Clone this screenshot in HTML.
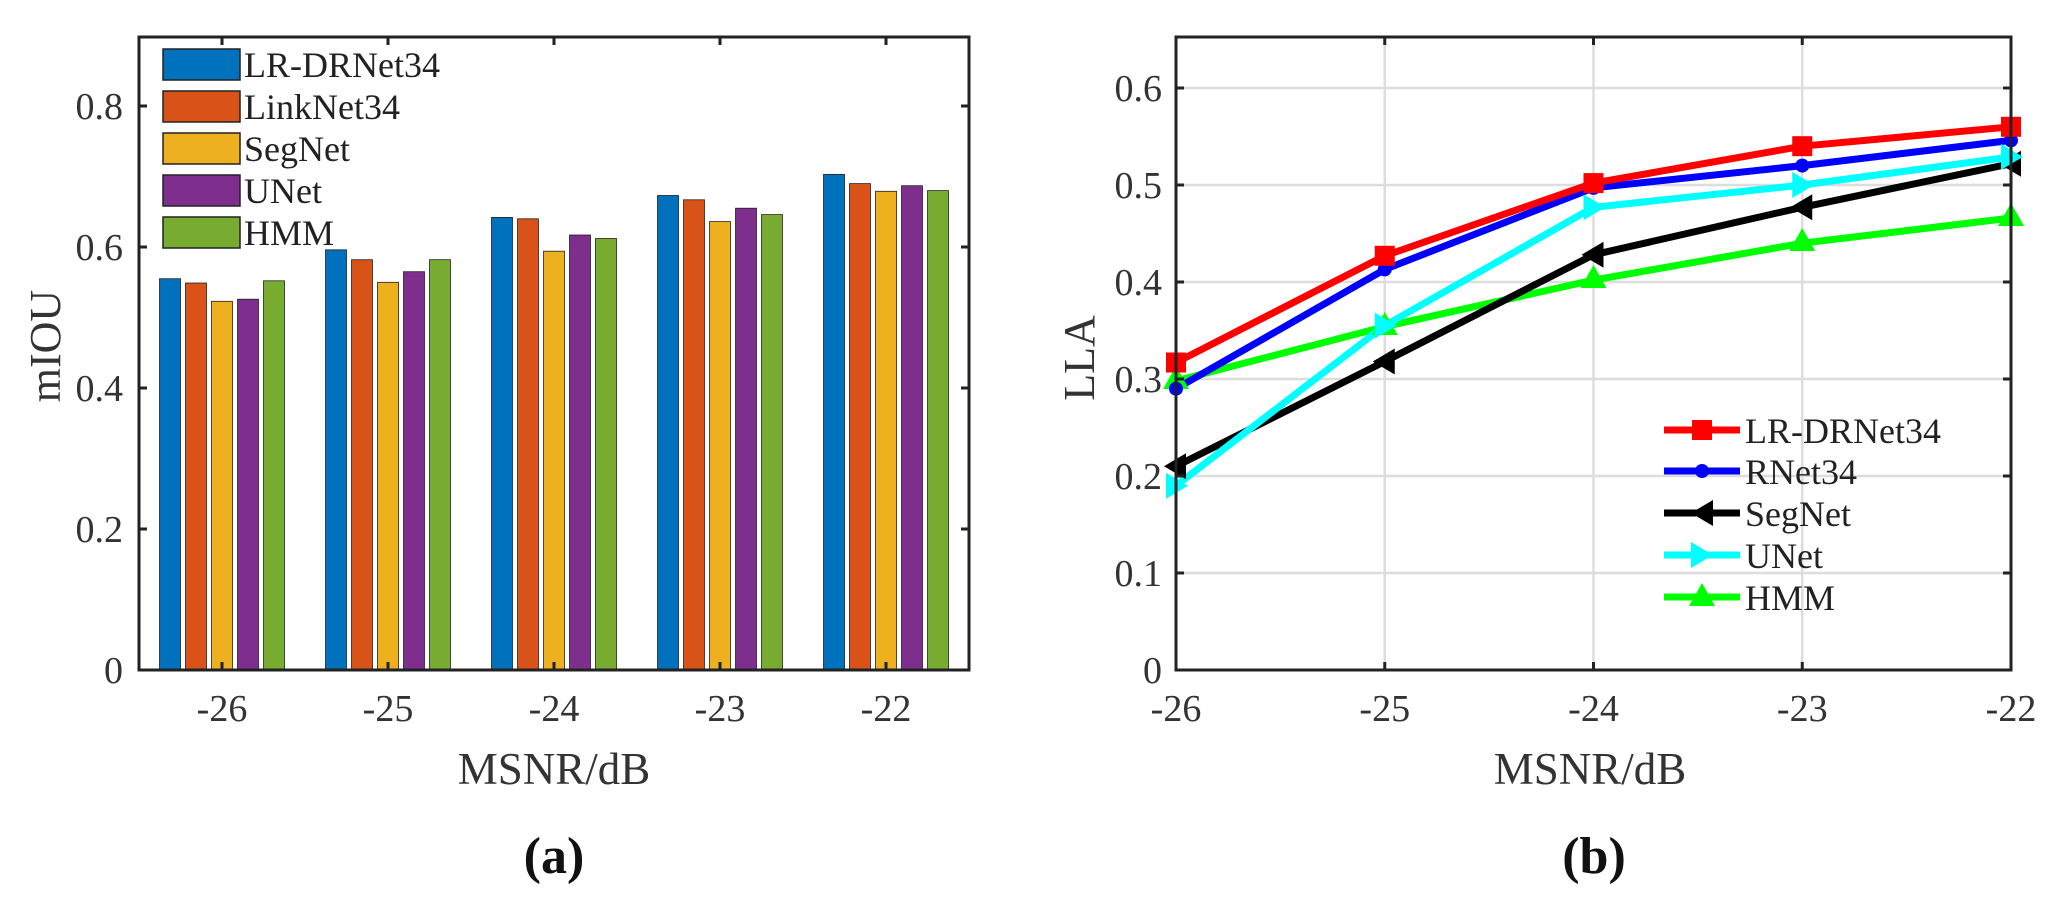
<!DOCTYPE html>
<html><head><meta charset="utf-8"><style>html,body{margin:0;padding:0;background:#fff}svg{display:block}</style></head>
<body>
<svg width="2057" height="915" viewBox="0 0 2057 915" xmlns="http://www.w3.org/2000/svg" font-family="'Liberation Serif',serif" fill="#333">
<!-- LEFT PLOT -->
<g stroke="#222" stroke-width="0.8">
<g fill="#0072BD"><rect x="159.5" y="278.7" width="21" height="391.3"/><rect x="325.5" y="249.8" width="21" height="420.2"/><rect x="491.5" y="217.4" width="21" height="452.6"/><rect x="657.5" y="195.5" width="21" height="474.5"/><rect x="823.5" y="174.4" width="21" height="495.6"/></g>
<g fill="#D95319"><rect x="185.5" y="283" width="21" height="387"/><rect x="351.5" y="259.7" width="21" height="410.3"/><rect x="517.5" y="218.8" width="21" height="451.2"/><rect x="683.5" y="199.8" width="21" height="470.2"/><rect x="849.5" y="183.6" width="21" height="486.4"/></g>
<g fill="#EDB120"><rect x="211.5" y="301.3" width="21" height="368.7"/><rect x="377.5" y="282.3" width="21" height="387.7"/><rect x="543.5" y="251.2" width="21" height="418.8"/><rect x="709.5" y="221.6" width="21" height="448.4"/><rect x="875.5" y="191.3" width="21" height="478.7"/></g>
<g fill="#7E2F8E"><rect x="237.5" y="299.2" width="21" height="370.8"/><rect x="403.5" y="271.7" width="21" height="398.3"/><rect x="569.5" y="235" width="21" height="435"/><rect x="735.5" y="208.2" width="21" height="461.8"/><rect x="901.5" y="185.7" width="21" height="484.3"/></g>
<g fill="#77AC30"><rect x="263.5" y="280.8" width="21" height="389.2"/><rect x="429.5" y="259.7" width="21" height="410.3"/><rect x="595.5" y="238.5" width="21" height="431.5"/><rect x="761.5" y="214.6" width="21" height="455.4"/><rect x="927.5" y="190.6" width="21" height="479.4"/></g>
</g>
<rect x="139" y="37" width="830" height="633" fill="none" stroke="#222" stroke-width="3"/>
<g stroke="#222" stroke-width="3">
<path d="M222 670v-8M388 670v-8M554 670v-8M720 670v-8M886 670v-8M222 37v8M388 37v8M554 37v8M720 37v8M886 37v8"/>
<path d="M139 529h8M139 388h8M139 247h8M139 106h8M969 529h-8M969 388h-8M969 247h-8M969 106h-8"/>
</g>
<!-- legend left -->
<g stroke="#222" stroke-width="1.5">
<rect x="163" y="49" width="77" height="31" fill="#0072BD"/>
<rect x="163" y="91" width="77" height="31" fill="#D95319"/>
<rect x="163" y="133" width="77" height="31" fill="#EDB120"/>
<rect x="163" y="175" width="77" height="31" fill="#7E2F8E"/>
<rect x="163" y="217" width="77" height="31" fill="#77AC30"/>
</g>
<g font-size="36" fill="#222">
<text x="244" y="77">LR-DRNet34</text>
<text x="244" y="119">LinkNet34</text>
<text x="244" y="161">SegNet</text>
<text x="244" y="203">UNet</text>
<text x="244" y="245">HMM</text>
</g>
<g font-size="38" text-anchor="end">
<text x="123" y="683">0</text><text x="123" y="542">0.2</text><text x="123" y="401">0.4</text><text x="123" y="260">0.6</text><text x="123" y="119">0.8</text>
</g>
<g font-size="38" text-anchor="middle">
<text x="222" y="721">-26</text><text x="388" y="721">-25</text><text x="554" y="721">-24</text><text x="720" y="721">-23</text><text x="886" y="721">-22</text>
</g>
<text x="554" y="784" font-size="45" text-anchor="middle">MSNR/dB</text>
<text transform="translate(60,346) rotate(-90)" font-size="44" text-anchor="middle">mIOU</text>
<text x="554" y="873" font-size="52" font-weight="bold" text-anchor="middle" fill="#111">(a)</text>

<!-- RIGHT PLOT -->
<g stroke="#ddd" stroke-width="2.5">
<path d="M1176 573H2011M1176 476H2011M1176 379H2011M1176 282H2011M1176 185H2011M1176 88H2011"/>
<path d="M1384.75 37V670M1593.5 37V670M1802.25 37V670"/>
</g>
<g fill="none" stroke-width="7" stroke-linejoin="round">
<polyline stroke="#00ff00" points="1176,380.9 1384.75,326.6 1593.5,280.1 1802.25,243.2 2011,218"/>
<polyline stroke="#000" points="1176,466.3 1384.75,361.5 1593.5,254.8 1802.25,207.3 2011,163.7"/>
<polyline stroke="#00ffff" points="1176,485.7 1384.75,325.6 1593.5,207.3 1802.25,185 2011,156.9"/>
<polyline stroke="#0000ff" points="1176,388.7 1384.75,269.4 1593.5,187.9 1802.25,165.6 2011,140.4"/>
<polyline stroke="#ff0000" points="1176,362.5 1384.75,255.8 1593.5,183.1 1802.25,146.2 2011,126.8"/>
</g>
<!-- markers -->
<g fill="#00ff00">
<path d="M1176 366l13 23h-26z"/><path d="M1384.75 312l13 23h-26z"/><path d="M1593.5 265l13 23h-26z"/><path d="M1802.25 228l13 23h-26z"/><path d="M2011 203l13 23h-26z"/>
</g>
<g fill="#000">
<path d="M1164 466.3l22 -13v26z"/><path d="M1372.75 361.5l22 -13v26z"/><path d="M1581.5 254.8l22 -13v26z"/><path d="M1790.25 207.3l22 -13v26z"/><path d="M1999 163.7l22 -13v26z"/>
</g>
<g fill="#00ffff">
<path d="M1188 485.7l-22 -13v26z"/><path d="M1396.75 325.6l-22 -13v26z"/><path d="M1605.5 207.3l-22 -13v26z"/><path d="M1814.25 185l-22 -13v26z"/><path d="M2023 156.9l-22 -13v26z"/>
</g>
<g fill="#0000ff">
<circle cx="1176" cy="388.7" r="7"/><circle cx="1384.75" cy="269.4" r="7"/><circle cx="1593.5" cy="187.9" r="7"/><circle cx="1802.25" cy="165.6" r="7"/><circle cx="2011" cy="140.4" r="7"/>
</g>
<g fill="#ff0000">
<rect x="1166" y="352.5" width="20" height="20"/><rect x="1374.75" y="245.8" width="20" height="20"/><rect x="1583.5" y="173.1" width="20" height="20"/><rect x="1792.25" y="136.2" width="20" height="20"/><rect x="2001" y="116.8" width="20" height="20"/>
</g>
<rect x="1176" y="37" width="835" height="633" fill="none" stroke="#222" stroke-width="3"/>
<g stroke="#222" stroke-width="3">
<path d="M1384.75 670v-8M1593.5 670v-8M1802.25 670v-8M1384.75 37v8M1593.5 37v8M1802.25 37v8"/>
<path d="M1176 573h8M1176 476h8M1176 379h8M1176 282h8M1176 185h8M1176 88h8M2011 573h-8M2011 476h-8M2011 379h-8M2011 282h-8M2011 185h-8M2011 88h-8"/>
</g>
<!-- legend right -->
<g stroke-width="7">
<path d="M1664 430h76" stroke="#ff0000"/><path d="M1664 471h76" stroke="#0000ff"/><path d="M1664 513h76" stroke="#000"/><path d="M1664 555h76" stroke="#00ffff"/><path d="M1664 597h76" stroke="#00ff00"/>
</g>
<rect x="1692" y="420" width="20" height="20" fill="#ff0000"/>
<circle cx="1702" cy="471" r="7" fill="#0000ff"/>
<path d="M1691 513l22 -13v26z" fill="#000"/>
<path d="M1713 555l-22 -13v26z" fill="#00ffff"/>
<path d="M1702 583l13 23h-26z" fill="#00ff00"/>
<g font-size="36" fill="#222">
<text x="1745" y="443">LR-DRNet34</text>
<text x="1745" y="484">RNet34</text>
<text x="1745" y="526">SegNet</text>
<text x="1745" y="568">UNet</text>
<text x="1745" y="610">HMM</text>
</g>
<g font-size="38" text-anchor="end">
<text x="1162" y="683">0</text><text x="1162" y="586">0.1</text><text x="1162" y="489">0.2</text><text x="1162" y="392">0.3</text><text x="1162" y="295">0.4</text><text x="1162" y="198">0.5</text><text x="1162" y="101">0.6</text>
</g>
<g font-size="38" text-anchor="middle">
<text x="1176" y="721">-26</text><text x="1384.75" y="721">-25</text><text x="1593.5" y="721">-24</text><text x="1802.25" y="721">-23</text><text x="2011" y="721">-22</text>
</g>
<text x="1590" y="784" font-size="45" text-anchor="middle">MSNR/dB</text>
<text transform="translate(1094,358) rotate(-90)" font-size="44" text-anchor="middle">LLA</text>
<text x="1594" y="873" font-size="52" font-weight="bold" text-anchor="middle" fill="#111">(b)</text>
</svg>
</body></html>
